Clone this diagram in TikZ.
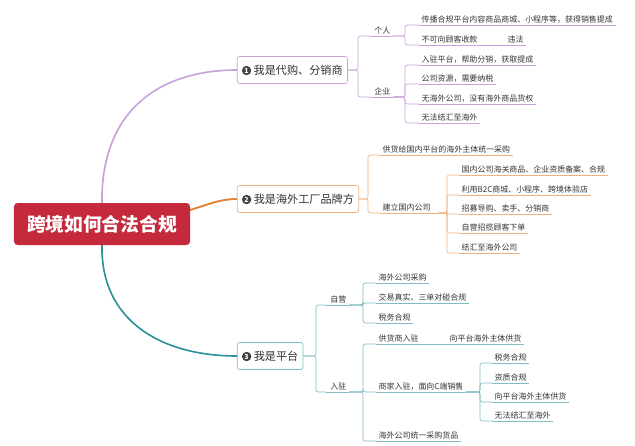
\documentclass[tikz,border=0pt]{standalone}
\usepackage{fontspec}
\setmainfont{Noto Sans CJK SC}
\usetikzlibrary{positioning}
\definecolor{rootred}{HTML}{C42A3C}
\definecolor{lilac}{HTML}{C9A2DA}
\definecolor{amber}{HTML}{E5812F}
\definecolor{teal}{HTML}{2E9098}
\tikzset{
  leafnode/.style={anchor=south west, inner xsep=2pt, inner ysep=1.5pt, font=\fontsize{6.8}{8}\selectfont, text=black!80},
  branchbox/.style={draw=#1, rounded corners=2pt, fill=white, minimum height=0.81cm, inner xsep=4pt, font=\fontsize{9.5}{11}\selectfont, text=black!80},
  numdot/.style={circle, fill=black!75, text=white, draw=none, minimum size=0pt, minimum height=0pt, minimum width=0pt, inner sep=0.8pt, font=\fontsize{6}{7}\selectfont\bfseries}
}
\newcommand{\leaf}[4]{\node[leafnode] (#1) at (#2,#3) {#4};
					\draw (#1.south west) -- (#1.south east);}
\newcommand{\fork}[3]{\draw[rounded corners=2pt] (#1.south east) -- (#1.south east -| #2) |- (#3.south west);}
\newcommand{\boxfork}[3]{\draw[rounded corners=2pt] (#1.east) -- (#1.east -| #2) |- (#3.south west);}
\newcommand{\badge}[1]{\tikz[baseline=-0.6ex]\node[numdot]{#1};}

\begin{document}
\begin{tikzpicture}[x=0.03cm, y=-0.03cm, line width=0.6pt]
	\useasboundingbox (0,0) rectangle (635,446);

	% main branches
	\draw[lilac, line width=1.4pt] (102,205) .. controls (100,110) and (160,70) .. (237,70) coordinate (e1);
	\draw[amber, line width=1.6pt] (190,210) .. controls (210,204) and (220,199) .. (237,199) coordinate (e2);
	\draw[teal, line width=1.4pt] (102,244) .. controls (100,320) and (160,356) .. (237,356) coordinate (e3);

	% root and branch boxes
	\node[fill=rootred, rounded corners=3pt, minimum width=5.28cm, minimum height=1.26cm, text=white, font=\fontsize{16}{18}\selectfont\bfseries] (root) at (102,224) {跨境如何合法合规};
	\node[branchbox=lilac, anchor=west] (b1) at (e1) {\badge{1} 我是代购、分销商};
	\node[branchbox=amber!60, anchor=west] (b2) at (e2) {\badge{2} 我是海外工厂品牌方};
	\node[branchbox=teal!60, anchor=west] (b3) at (e3) {\badge{3} 我是平台};

	% branch 1
	\begin{scope}[draw=lilac]
		\coordinate (k1) at (358,0);
		\coordinate (k2) at (405,0);
		\leaf{geren}{370}{36}{\ 个人\ }
		\leaf{qiye}{370}{97}{\ 企业\ }
		\boxfork{b1}{k1}{geren}
		\boxfork{b1}{k1}{qiye}
		\leaf{ga}{419}{25}{传播合规平台内容商品商城、小程序等，获得销售提成}
		\leaf{gb}{419}{45}{不可向顾客收款}
		\node[leafnode] (weifa) at (505,45) {违法};
		\draw (gb.south east) -- (weifa.south east);
		\fork{geren}{k2}{ga}
		\fork{geren}{k2}{gb}
		\leaf{qa}{419}{65}{入驻平台，帮助分销，获取提成}
		\leaf{qb}{419}{84}{公司资源，需要纳税}
		\leaf{qc}{419}{104}{无海外公司，没有海外商品货权}
		\leaf{qd}{419}{123}{无法结汇至海外}
		\foreach \q in {qa,qb,qc,qd} {\fork{qiye}{k2}{\q}}
	\end{scope}

	% branch 2
	\begin{scope}[draw=amber!60]
		\coordinate (k3) at (368,0);
		\coordinate (k4) at (447,0);
		\leaf{gonghuo}{380}{155}{供货给国内平台的海外主体统一采购}
		\leaf{jianli}{380}{213}{建立国内公司\ \ \ \ }
		\boxfork{b2}{k3}{gonghuo}
		\boxfork{b2}{k3}{jianli}
		\leaf{ja}{459}{175}{国内公司海关商品、企业资质备案、合规}
		\leaf{jb}{459}{195}{利用B2C商城、小程序、跨境体验店}
		\leaf{jc}{459}{214}{招募导购、卖手、分销商}
		\leaf{jd}{459}{233}{自营招揽顾客下单}
		\leaf{je}{459}{253}{结汇至海外公司}
		\foreach \j in {ja,jb,jc,jd,je} {\fork{jianli}{k4}{\j}}
	\end{scope}

	% branch 3
	\begin{scope}[draw=teal!60]
		\coordinate (k5) at (316,0);
		\coordinate (k6) at (363,0);
		\coordinate (k7) at (480,0);
		\leaf{ziying}{326}{305}{\ 自营\ }
		\leaf{ruzhu}{326}{392}{\ 入驻\ }
		\boxfork{b3}{k5}{ziying}
		\boxfork{b3}{k5}{ruzhu}
		\leaf{za}{376}{283}{海外公司采购}
		\leaf{zb}{376}{303}{交易真实、三单对碰合规}
		\leaf{zc}{376}{323}{税务合规}
		\foreach \z in {za,zb,zc} {\fork{ziying}{k6}{\z}}
		\leaf{ra}{376}{344}{供货商入驻}
		\node[leafnode] (rax) at (447,344) {向平台海外主体供货};
		\draw (ra.south east) -- (rax.south east);
		\leaf{rb}{376}{392}{商家入驻，面向C端销售}
		\leaf{rc}{376}{441}{海外公司统一采购货品}
		\foreach \r in {ra,rb,rc} {\fork{ruzhu}{k6}{\r}}
		\leaf{sa}{492}{363}{税务合规}
		\leaf{sb}{492}{383}{资质合规}
		\leaf{sc}{492}{402}{向平台海外主体供货}
		\leaf{sd}{492}{421}{无法结汇至海外}
		\foreach \s in {sa,sb,sc,sd} {\fork{rb}{k7}{\s}}
	\end{scope}
\end{tikzpicture}
\end{document}
